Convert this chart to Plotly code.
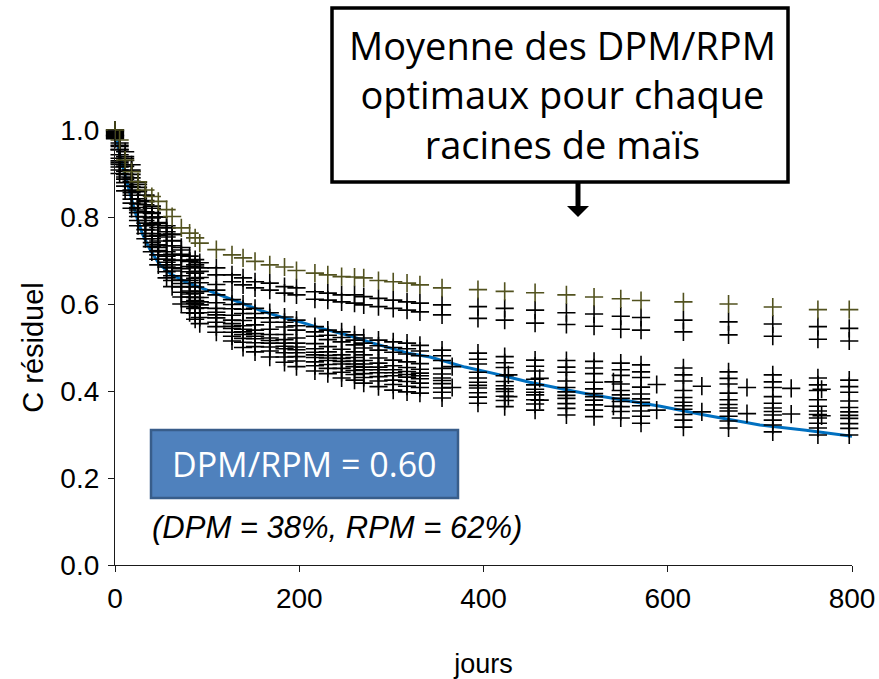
import plotly.graph_objects as go

# Sampling days (common schedule for the incubated maize roots)
jours = [0, 5, 11, 18, 25, 33, 40, 47, 56, 62, 72, 81, 87, 92, 110, 127, 139, 152,
         168, 184, 197, 217, 231, 246, 260, 270, 286, 302, 317, 331, 355, 394, 423,
         456, 490, 520, 549, 571, 617, 666, 714, 763, 797]

# Residual carbon fraction, root with the slowest decay (olive markers)
racine_olive = [1.000, 0.977, 0.931, 0.904, 0.881, 0.862, 0.847, 0.836, 0.817, 0.801,
                0.775, 0.763, 0.752, 0.740, 0.725, 0.713, 0.706, 0.698, 0.690, 0.685,
                0.677, 0.671, 0.667, 0.663, 0.662, 0.660, 0.654, 0.651, 0.648, 0.644,
                0.637, 0.633, 0.629, 0.626, 0.621, 0.616, 0.612, 0.608, 0.605, 0.600,
                0.593, 0.587, 0.587]

# Two slow-decaying roots (black)
racine_a = [1.000, 0.965, 0.935, 0.905, 0.875, 0.850, 0.825, 0.800, 0.775, 0.760,
            0.724, 0.710, 0.702, 0.695, 0.683, 0.667, 0.660, 0.651, 0.648, 0.640,
            0.637, 0.628, 0.625, 0.621, 0.621, 0.617, 0.613, 0.609, 0.605, 0.602,
            0.598, 0.594, 0.590, 0.586, 0.580, 0.577, 0.572, 0.569, 0.563, 0.559,
            0.554, 0.548, 0.544]
racine_b = [0.995, 0.955, 0.920, 0.890, 0.860, 0.835, 0.810, 0.785, 0.760, 0.745,
            0.712, 0.698, 0.690, 0.683, 0.667, 0.651, 0.644, 0.637, 0.632, 0.625,
            0.621, 0.611, 0.609, 0.605, 0.602, 0.598, 0.594, 0.590, 0.586, 0.582,
            0.575, 0.567, 0.563, 0.556, 0.553, 0.549, 0.542, 0.540, 0.536, 0.529,
            0.526, 0.519, 0.515]

# Remaining roots (black)
racine_01 = [1.000, 0.970, 0.950, 0.920, 0.880, 0.850, 0.820, 0.800, 0.780, 0.760,
             0.730, 0.700, 0.685, 0.675, 0.645, 0.610, 0.600, 0.590, 0.580, 0.570,
             0.563, 0.548, 0.540, 0.536, 0.529, 0.522, 0.517, 0.513, 0.510, 0.505,
             0.494, 0.487, 0.479, 0.471, 0.470, 0.468, 0.464, 0.460, 0.453, 0.444,
             0.437, 0.430, 0.425]
racine_02 = [0.998, 0.962, 0.939, 0.908, 0.868, 0.838, 0.808, 0.787, 0.766, 0.746,
             0.714, 0.686, 0.671, 0.661, 0.632, 0.599, 0.588, 0.578, 0.568, 0.558,
             0.550, 0.536, 0.528, 0.523, 0.517, 0.510, 0.504, 0.500, 0.497, 0.492,
             0.481, 0.473, 0.465, 0.457, 0.455, 0.453, 0.449, 0.444, 0.437, 0.429,
             0.421, 0.414, 0.410]
racine_03 = [0.996, 0.955, 0.930, 0.898, 0.858, 0.828, 0.798, 0.776, 0.754, 0.734,
             0.701, 0.674, 0.659, 0.649, 0.621, 0.589, 0.578, 0.568, 0.558, 0.547,
             0.540, 0.526, 0.518, 0.513, 0.506, 0.499, 0.494, 0.489, 0.485, 0.481,
             0.470, 0.462, 0.454, 0.446, 0.443, 0.440, 0.436, 0.431, 0.423, 0.416,
             0.408, 0.401, 0.397]
racine_04 = [0.992, 0.943, 0.916, 0.882, 0.842, 0.812, 0.782, 0.758, 0.734, 0.714,
             0.681, 0.654, 0.639, 0.629, 0.603, 0.574, 0.562, 0.552, 0.542, 0.530,
             0.522, 0.509, 0.502, 0.496, 0.490, 0.483, 0.476, 0.471, 0.467, 0.463,
             0.452, 0.443, 0.435, 0.427, 0.423, 0.420, 0.416, 0.409, 0.401, 0.395,
             0.387, 0.380, 0.377]
racine_05 = [0.990, 0.935, 0.905, 0.870, 0.830, 0.800, 0.770, 0.745, 0.720, 0.700,
             0.665, 0.640, 0.625, 0.615, 0.590, 0.563, 0.550, 0.540, 0.530, 0.518,
             0.510, 0.497, 0.490, 0.483, 0.477, 0.470, 0.464, 0.458, 0.454, 0.450,
             0.439, 0.430, 0.422, 0.414, 0.408, 0.405, 0.401, 0.393, 0.385, 0.380,
             0.372, 0.365, 0.362]
racine_06 = [0.988, 0.929, 0.898, 0.862, 0.822, 0.792, 0.762, 0.736, 0.710, 0.690,
             0.655, 0.630, 0.615, 0.605, 0.581, 0.555, 0.542, 0.532, 0.522, 0.510,
             0.501, 0.489, 0.482, 0.475, 0.469, 0.462, 0.455, 0.449, 0.445, 0.441,
             0.430, 0.420, 0.412, 0.404, 0.398, 0.394, 0.391, 0.382, 0.374, 0.369,
             0.361, 0.354, 0.352]
racine_07 = [0.987, 0.925, 0.892, 0.856, 0.816, 0.786, 0.756, 0.730, 0.703, 0.683,
             0.647, 0.623, 0.608, 0.598, 0.575, 0.549, 0.536, 0.526, 0.516, 0.503,
             0.495, 0.483, 0.476, 0.468, 0.462, 0.455, 0.449, 0.442, 0.438, 0.435,
             0.424, 0.413, 0.405, 0.397, 0.390, 0.387, 0.383, 0.374, 0.366, 0.361,
             0.353, 0.346, 0.344]
racine_08 = [0.986, 0.921, 0.887, 0.850, 0.810, 0.780, 0.750, 0.723, 0.696, 0.676,
             0.639, 0.616, 0.601, 0.591, 0.568, 0.544, 0.530, 0.520, 0.510, 0.497,
             0.488, 0.477, 0.470, 0.462, 0.456, 0.449, 0.442, 0.435, 0.432, 0.428,
             0.417, 0.407, 0.399, 0.391, 0.383, 0.379, 0.376, 0.366, 0.358, 0.354,
             0.345, 0.338, 0.337]
racine_09 = [0.984, 0.915, 0.879, 0.841, 0.801, 0.771, 0.741, 0.713, 0.685, 0.665,
             0.627, 0.605, 0.590, 0.580, 0.558, 0.535, 0.521, 0.511, 0.501, 0.488,
             0.479, 0.467, 0.461, 0.452, 0.447, 0.440, 0.433, 0.425, 0.422, 0.418,
             0.407, 0.396, 0.388, 0.380, 0.371, 0.368, 0.364, 0.354, 0.346, 0.342,
             0.333, 0.326, 0.325]
racine_10 = [0.982, 0.908, 0.871, 0.832, 0.792, 0.762, 0.732, 0.703, 0.674, 0.654,
             0.616, 0.594, 0.579, 0.569, 0.548, 0.526, 0.512, 0.502, 0.492, 0.478,
             0.469, 0.458, 0.452, 0.443, 0.438, 0.431, 0.423, 0.415, 0.411, 0.408,
             0.397, 0.386, 0.378, 0.370, 0.360, 0.356, 0.353, 0.342, 0.333, 0.331,
             0.322, 0.315, 0.314]
racine_11 = [0.980, 0.900, 0.860, 0.820, 0.780, 0.750, 0.720, 0.690, 0.660, 0.640,
             0.600, 0.580, 0.565, 0.555, 0.535, 0.515, 0.500, 0.490, 0.478, 0.466,
             0.456, 0.446, 0.440, 0.430, 0.425, 0.418, 0.410, 0.402, 0.398, 0.395,
             0.384, 0.372, 0.364, 0.356, 0.345, 0.341, 0.338, 0.326, 0.317, 0.315,
             0.306, 0.299, 0.299]

# Two roots sampled on a separate late schedule
jours_tardifs = [366, 427, 461, 541, 588, 637, 686, 734, 767]
racine_c = [0.456, 0.437, 0.429, 0.421, 0.415, 0.411, 0.408, 0.406, 0.404]
racine_d = [0.408, 0.387, 0.379, 0.365, 0.356, 0.352, 0.348, 0.347, 0.343]

# Simulated residual C with the mean optimal DPM/RPM ratio
jours_modele = [0, 2, 5, 8, 11, 16, 22, 30, 38, 48, 60, 75, 90, 103, 115, 135, 157,
                180, 201, 222, 250, 280, 320, 342, 380, 418, 450, 490, 516, 550, 592,
                640, 700, 750, 800]
c_modele = [1.000, 0.975, 0.945, 0.920, 0.895, 0.855, 0.810, 0.760, 0.725, 0.692,
            0.670, 0.652, 0.640, 0.630, 0.621, 0.605, 0.586, 0.570, 0.559, 0.545,
            0.530, 0.510, 0.486, 0.478, 0.455, 0.437, 0.420, 0.403, 0.392, 0.380,
            0.365, 0.345, 0.322, 0.310, 0.296]

x_ticks = [0, 200, 400, 600, 800]
y_ticks = [0.0, 0.2, 0.4, 0.6, 0.8, 1.0]

NOIR = "#000000"
OLIVE = "#52521F"
BLEU = "#0070C0"

# plot area in pixels, used to place the text boxes
L, R, T, B = 115, 852, 130, 565
W, H = 879, 679


def px(x):
    return (x - L) / (R - L)


def py(y):
    return (B - y) / (B - T)


fig = go.Figure()

fig.add_trace(go.Scatter(x=jours_modele, y=c_modele, mode="lines",
                         line=dict(color=BLEU, width=3), name="Modèle",
                         showlegend=False))


def croix(x, y, couleur, nom):
    fig.add_trace(go.Scatter(
        x=x, y=y, mode="markers", name=nom, showlegend=False, cliponaxis=False,
        marker=dict(symbol="cross-thin-open", size=13, color=couleur,
                    line=dict(color=couleur, width=1.6))))


for i, serie in enumerate([racine_01, racine_02, racine_03, racine_04, racine_05,
                           racine_06, racine_07, racine_08, racine_09, racine_10,
                           racine_11]):
    croix(jours, serie, NOIR, f"Racine {i + 1}")
croix(jours_tardifs, racine_c, NOIR, "Racine 12")
croix(jours_tardifs, racine_d, NOIR, "Racine 13")
croix(jours, racine_b, NOIR, "Racine 14")
croix(jours, racine_a, NOIR, "Racine 15")
croix(jours, racine_olive, OLIVE, "Racine 16")

shapes = [
    # callout box
    dict(type="rect", xref="paper", yref="paper",
         x0=px(332), x1=px(788), y0=py(182), y1=py(8),
         line=dict(color="black", width=3.5), fillcolor="white"),
    # arrow shaft
    dict(type="rect", xref="paper", yref="paper",
         x0=px(575.5), x1=px(580.5), y0=py(207), y1=py(183),
         line=dict(width=0), fillcolor="black"),
    # arrow head
    dict(type="path", xref="paper", yref="paper",
         path=f"M {px(567)} {py(206)} L {px(589)} {py(206)} L {px(578)} {py(217)} Z",
         line=dict(width=0), fillcolor="black"),
    # ratio box
    dict(type="rect", xref="paper", yref="paper",
         x0=px(151), x1=px(458), y0=py(498), y1=py(430),
         line=dict(color="#385D8A", width=2.5), fillcolor="#4F81BD"),
]

annotations = [
    dict(xref="paper", yref="paper", x=px(562), y=py(94), showarrow=False,
         text="Moyenne des DPM/RPM<br>optimaux pour chaque<br>racines de maïs",
         font=dict(family="Open Sans", size=38, color="black"),
         xanchor="center", yanchor="middle", align="center"),
    dict(xref="paper", yref="paper", x=px(304), y=py(464), showarrow=False,
         text="DPM/RPM = 0.60",
         font=dict(family="Open Sans", size=34, color="white"),
         xanchor="center", yanchor="middle"),
    dict(xref="paper", yref="paper", x=px(337), y=py(527), showarrow=False,
         text="<i>(DPM = 38%, RPM = 62%)</i>",
         font=dict(family="Liberation Sans", size=31, color="black"),
         xanchor="center", yanchor="middle"),
]

axe = dict(showgrid=False, zeroline=False, showline=True, linecolor="#1a1a1a",
           linewidth=1.2, ticks="outside", ticklen=6, tickwidth=1.2,
           tickcolor="#1a1a1a",
           tickfont=dict(family="Liberation Sans", size=28, color="black"))

fig.update_layout(
    width=W, height=H,
    margin=dict(l=L, r=W - R, t=T, b=H - B, autoexpand=False),
    paper_bgcolor="white", plot_bgcolor="white",
    xaxis=dict(axe, range=[0, 800], tickvals=x_ticks, ticklabelstandoff=2,
               title=dict(text="jours", standoff=44,
                          font=dict(family="Liberation Sans", size=27,
                                    color="black"))),
    yaxis=dict(axe, range=[0, 1], tickvals=y_ticks, tickformat=".1f",
               ticklabelstandoff=3,
               title=dict(text="C résiduel", standoff=8,
                          font=dict(family="Liberation Sans", size=29,
                                    color="black"))),
    shapes=shapes, annotations=annotations,
)

fig.write_html("out.html")
